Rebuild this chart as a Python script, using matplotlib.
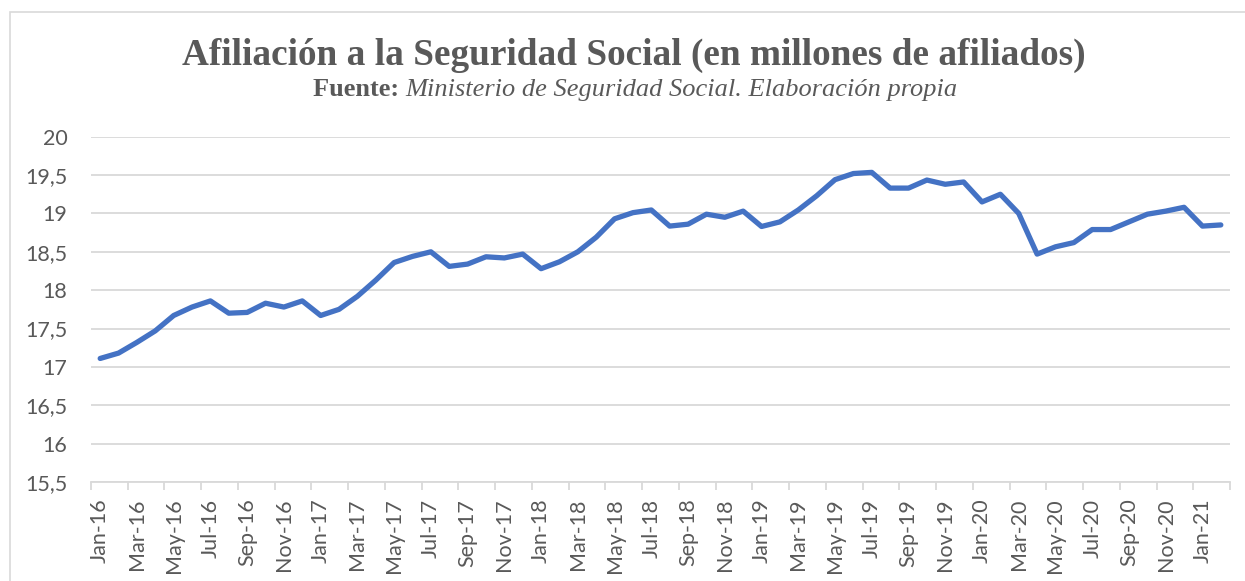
import matplotlib
matplotlib.use("Agg")
import matplotlib.pyplot as plt
from matplotlib.ticker import FixedLocator, FuncFormatter
from matplotlib.patches import Rectangle

month_names = ["Jan", "Feb", "Mar", "Apr", "May", "Jun",
               "Jul", "Aug", "Sep", "Oct", "Nov", "Dec"]
years = ["16", "17", "18", "19", "20", "21"]
categories = [f"{m}-{y}" for y in years for m in month_names][:62]  # Jan-16 .. Feb-21

afiliados = [
    17.11, 17.18, 17.32, 17.47, 17.67, 17.78, 17.86, 17.70, 17.71, 17.83, 17.78, 17.86,
    17.67, 17.75, 17.92, 18.13, 18.36, 18.44, 18.50, 18.31, 18.34, 18.435, 18.42, 18.47,
    18.28, 18.37, 18.50, 18.69, 18.93, 19.01, 19.045, 18.835, 18.86, 18.99, 18.95, 19.03,
    18.83, 18.89, 19.045, 19.23, 19.44, 19.52, 19.535, 19.33, 19.33, 19.435, 19.38, 19.41,
    19.15, 19.25, 19.00, 18.47, 18.565, 18.62, 18.79, 18.79, 18.89, 18.99, 19.03, 19.08,
    18.835, 18.85,
]

y_ticks = [15.5, 16, 16.5, 17, 17.5, 18, 18.5, 19, 19.5, 20]

title = "Afiliación a la Seguridad Social (en millones de afiliados)"
source_bold = "Fuente:"
source_rest = "Ministerio de Seguridad Social. Elaboración propia"

W, H = 1245, 581
fig = plt.figure(figsize=(W / 100, H / 100), dpi=100)
fig.patch.set_facecolor("white")

# outer chart border
fig.patches.append(Rectangle((10 / W, -0.01), 1.02, 1 - 12 / H + 0.01,
                             transform=fig.transFigure, fill=False,
                             edgecolor="#d9d9d9", linewidth=1.2))

ax = fig.add_axes([91 / W, 1 - 482 / H, (1230 - 91) / W, (482 - 136.7) / H])
x = list(range(len(afiliados)))
ax.plot(x, afiliados, color="#4472C4", linewidth=3.8, solid_joinstyle="round",
        solid_capstyle="round", zorder=3)

ax.set_xlim(-0.5, len(afiliados) - 0.5)
ax.set_ylim(15.5, 20)

ax.yaxis.set_major_locator(FixedLocator(y_ticks))
ax.yaxis.set_major_formatter(FuncFormatter(lambda v, p: (f"{v:g}").replace(".", ",")))
ax.grid(axis="y", color="#d9d9d9", linewidth=1.3, zorder=0)
ax.set_axisbelow(True)

label_pos = list(range(0, len(categories), 2))
ax.set_xticks(label_pos)
ax.set_xticklabels([categories[i] for i in label_pos], rotation=90)
ax.set_xticks([i - 0.5 for i in range(0, len(categories) + 1, 2)], minor=True)
ax.tick_params(axis="x", which="major", length=0, pad=12, labelsize=15.5,
               labelcolor="#595959")
ax.tick_params(axis="x", which="minor", length=6, width=1.3, color="#d9d9d9")
ax.tick_params(axis="y", length=0, pad=17, labelsize=15.5, labelcolor="#595959")
for lab in ax.get_xticklabels() + ax.get_yticklabels():
    lab.set_fontfamily("Lato")

for s in ["top", "right", "left"]:
    ax.spines[s].set_visible(False)
ax.spines["bottom"].set_color("#d9d9d9")
ax.spines["bottom"].set_linewidth(1.3)

fig.text(634 / W, 1 - 65 / H, title, ha="center", va="baseline",
         fontfamily="Liberation Serif", fontweight="bold", fontsize=26.8,
         color="#595959")

# subtitle: bold + italic parts, centered as a whole
renderer = fig.canvas.get_renderer()
t1 = fig.text(0, 1 - 96 / H, source_bold + " ", ha="left", va="baseline",
              fontfamily="Liberation Serif", fontweight="bold", fontsize=19,
              color="#595959")
t2 = fig.text(0, 1 - 96 / H, source_rest, ha="left", va="baseline",
              fontfamily="Liberation Serif", fontstyle="italic", fontsize=19,
              color="#595959")
w1 = t1.get_window_extent(renderer).width
w2 = t2.get_window_extent(renderer).width
start = (635 - (w1 + w2) / 2)
t1.set_x(start / W)
t2.set_x((start + w1) / W)

fig.savefig("out.png", dpi=100, facecolor="white")
